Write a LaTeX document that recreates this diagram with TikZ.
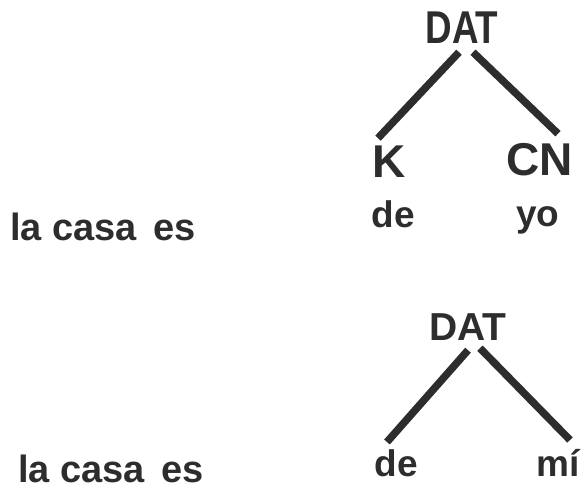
\documentclass[tikz,border=0pt]{standalone}
\usepackage{fontspec}
\usepackage{graphicx}
\setmainfont{Liberation Sans}
\definecolor{ink}{RGB}{45,45,45}
\begin{document}
\begin{tikzpicture}[x=1pt,y=-1pt,
  lbl/.style={inner sep=0pt,anchor=base,text=ink,font=\bfseries},
  big/.style={lbl,font=\fontsize{46}{50}\selectfont\bfseries},
  mid/.style={lbl,font=\fontsize{39}{44}\selectfont\bfseries},
  small/.style={lbl,font=\fontsize{37}{42}\selectfont\bfseries},
  phrase/.style={inner sep=0pt,anchor=base west,text=ink,font=\fontsize{38}{42}\selectfont\bfseries},
  branch/.style={draw=ink,line width=7.5pt,line cap=butt}]
\useasboundingbox (0,0) rectangle (582,491);
% tree 1
\node[big] (dat1) at (462,43) {\scalebox{0.8}[1]{DAT}};
\node[big] (k1) at (389,177) {K};
\node[big] (cn1) at (540,175) {CN};
\node[small] (de1) at (393,227) {de};
\node[small] (yo1) at (538,226) {yo};
\node[phrase] (p1) at (10,240) {la casa\, es};
\draw[branch] ([xshift=-3pt,yshift=-9pt]dat1.south) -- ([xshift=-11pt,yshift=7pt]k1.north);
\draw[branch] ([xshift=11pt,yshift=-9pt]dat1.south) -- ([xshift=18pt,yshift=9pt]cn1.north);
% tree 2
\node[mid] (dat2) at (468,340) {DAT};
\node[small] (de2) at (396,476) {de};
\node[small] (mi2) at (558,476) {mí};
\node[phrase] (p2) at (18,482) {la casa\, es};
\draw[branch] ([yshift=-10pt]dat2.south) -- ([xshift=-9pt,yshift=7pt]de2.north);
\draw[branch] ([xshift=12pt,yshift=-8pt]dat2.south) -- ([xshift=12pt,yshift=36pt]mi2.base);
\end{tikzpicture}
\end{document}
